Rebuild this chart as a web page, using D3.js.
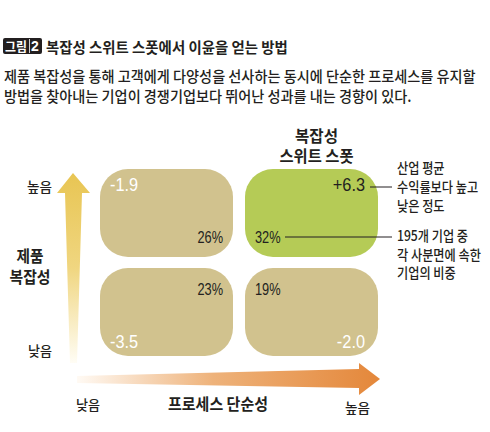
<!DOCTYPE html>
<html>
<head>
<meta charset="utf-8">
<script src="https://cdn.jsdelivr.net/npm/d3@7"></script>
<style>
  body { margin: 0; background: #fff; }
  text { font-family: "Noto Sans CJK KR", sans-serif; font-weight: 500; fill: #231f20; }
  text.num { font-family: "Liberation Sans", "Arial", sans-serif; font-weight: normal; }
  text.b { font-weight: bold; }
</style>
</head>
<body>
<svg id="chart" width="490" height="432"></svg>
<script>
// quadrant data: product complexity (rows) x process simplicity (columns)
const complexity = ["높음", "낮음"];
const simplicity = ["낮음", "높음"];
const profit = [-1.9, 6.3, -3.5, -2.0];   // vs. industry average, %p
const share = [26, 32, 23, 19];           // share of 195 companies, %
const sweetSpot = [false, true, false, false];

const title = "복잡성 스위트 스폿에서 이윤을 얻는 방법";
const subtitle = [
  "제품 복잡성을 통해 고객에게 다양성을 선사하는 동시에 단순한 프로세스를 유지할",
  "방법을 찾아내는 기업이 경쟁기업보다 뛰어난 성과를 내는 경향이 있다."
];
const noteProfit = ["산업 평균", "수익률보다 높고", "낮은 정도"];
const noteShare = ["195개 기업 중", "각 사분면에 속한", "기업의 비중"];

const quads = profit.map((p, i) => ({
  row: complexity[Math.floor(i / 2)],
  col: simplicity[i % 2],
  profit: p,
  share: share[i],
  sweet: sweetSpot[i]
}));

const svg = d3.select("#chart");

// squeeze text horizontally, like the condensed print face
// (moves x/y into a transform so the box is squeezed too)
function squeeze(node, k) {
  const t = d3.select(node);
  const tx = +t.attr("x") || 0, ty = +t.attr("y") || 0;
  t.attr("x", null).attr("y", null)
    .attr("transform", `translate(${tx},${ty}) scale(${k},1)`);
}
function condense(sel, k) {
  sel.each(function() { squeeze(this, k); });
}
// squeeze each text so it spans a given width
function fit(sel, w) {
  sel.each(function(d, i) {
    const target = typeof w === "function" ? w(d, i) : w;
    squeeze(this, target / this.getComputedTextLength());
  });
}

const x = d3.scaleBand().domain(simplicity).range([100, 378]).paddingInner(12 / 145);
const y = d3.scaleBand().domain(complexity).range([169, 356]).paddingInner(11 / 99);

// title
svg.append("rect").attr("x", 3).attr("y", 38).attr("width", 39).attr("height", 16)
  .attr("rx", 2).attr("fill", "#231f20");
svg.append("text").attr("class", "b").attr("x", 5).attr("y", 51).attr("font-size", 13)
  .style("fill", "#fff").text("그림").call(fit, 22);
svg.append("line").attr("x1", 29.5).attr("x2", 29.5).attr("y1", 39).attr("y2", 53)
  .attr("stroke", "#fff").attr("stroke-width", 0.8);
svg.append("text").attr("class", "num").attr("x", 31).attr("y", 51).attr("font-size", 14)
  .style("font-weight", "bold").style("fill", "#fff").text("2");
svg.append("text").attr("class", "b").attr("x", 46).attr("y", 53).attr("font-size", 15)
  .text(title).call(fit, 242);

svg.selectAll(".sub").data(subtitle).join("text")
  .attr("class", "sub")
  .attr("x", 4).attr("y", (d, i) => 82 + i * 19.5)
  .attr("font-size", 15)
  .text(d => d)
  .call(fit, (d, i) => i === 0 ? 472 : 408);

// gradients for the axis arrows
const defs = svg.append("defs");
const gy = defs.append("linearGradient").attr("id", "gy")
  .attr("x1", 0).attr("y1", 1).attr("x2", 0).attr("y2", 0);
gy.append("stop").attr("offset", 0).attr("stop-color", "#fffdf5");
gy.append("stop").attr("offset", 0.5).attr("stop-color", "#f0d680");
gy.append("stop").attr("offset", 1).attr("stop-color", "#e8c553");
const gx = defs.append("linearGradient").attr("id", "gx")
  .attr("x1", 0).attr("y1", 0).attr("x2", 1).attr("y2", 0);
gx.append("stop").attr("offset", 0).attr("stop-color", "#fffaf4");
gx.append("stop").attr("offset", 0.45).attr("stop-color", "#eeb27a");
gx.append("stop").attr("offset", 1).attr("stop-color", "#e4873a");

// vertical arrow (product complexity)
svg.append("path")
  .attr("d", d3.line()([[70, 363], [65, 193], [57, 193], [73, 173], [90, 193], [82, 193], [77, 363]]))
  .attr("fill", "url(#gy)");
// horizontal arrow (process simplicity)
svg.append("path")
  .attr("d", d3.line()([[77, 376], [359, 369], [359, 363], [380, 379], [359, 395], [359, 388], [77, 383]]))
  .attr("fill", "url(#gx)");

// quadrants
const cells = svg.selectAll(".cell").data(quads).join("g").attr("class", "cell");
cells.append("rect")
  .attr("x", d => x(d.col)).attr("y", d => y(d.row))
  .attr("width", x.bandwidth()).attr("height", y.bandwidth())
  .attr("rx", 28).attr("ry", 28)
  .attr("fill", d => d.sweet ? "#b5cb56" : "#d1c28e");

const fmt = v => (v > 0 ? "+" : v < 0 ? "-" : "") + Math.abs(v).toFixed(1);
const isLeft = d => d.col === simplicity[0];
const isTop = d => d.row === complexity[0];

// profit value in the outer corner
cells.append("text").attr("class", "num")
  .attr("x", d => isLeft(d) ? x(d.col) + 10 : x(d.col) + x.bandwidth() - 13)
  .attr("y", d => isTop(d) ? y(d.row) + 22 : y(d.row) + y.bandwidth() - 8)
  .attr("text-anchor", d => isLeft(d) ? "start" : "end")
  .attr("font-size", 19)
  .style("fill", d => d.sweet ? "#231f20" : "#fff")
  .text(d => fmt(d.profit))
  .call(condense, 0.86);

// company share in the inner corner
cells.append("text").attr("class", "num")
  .attr("x", d => isLeft(d) ? x(d.col) + x.bandwidth() - 10 : x(d.col) + 10)
  .attr("y", d => isTop(d) ? y(d.row) + y.bandwidth() - 14 : y(d.row) + 27)
  .attr("text-anchor", d => isLeft(d) ? "end" : "start")
  .attr("font-size", 16)
  .text(d => d.share + "%")
  .call(condense, 0.8);

// sweet spot header
const sweet = quads.find(d => d.sweet);
const cx = x(sweet.col) + x.bandwidth() / 2 + 5;
svg.selectAll(".head").data(["복잡성", "스위트 스폿"]).join("text")
  .attr("class", "head b")
  .attr("x", cx).attr("y", (d, i) => 142 + i * 20)
  .attr("text-anchor", "middle").attr("font-size", 15.5)
  .text(d => d).call(fit, (d, i) => i === 0 ? 43 : 74);

// leader lines and notes
svg.append("line").attr("x1", 370).attr("x2", 392).attr("y1", 187).attr("y2", 187)
  .attr("stroke", "#231f20").attr("stroke-width", 1);
svg.append("line").attr("x1", 285).attr("x2", 392).attr("y1", 237).attr("y2", 237)
  .attr("stroke", "#231f20").attr("stroke-width", 1);

svg.selectAll(".np").data(noteProfit).join("text").attr("class", "np")
  .attr("x", 397).attr("y", (d, i) => 173 + i * 19)
  .attr("font-size", 14).text(d => d).call(condense, 0.87);
svg.selectAll(".ns").data(noteShare).join("text").attr("class", "ns")
  .attr("x", 397).attr("y", (d, i) => 241 + i * 18.5)
  .attr("font-size", 14).text(d => d).call(condense, 0.87);

// axis labels
svg.append("text").attr("x", 52).attr("y", 192).attr("text-anchor", "end")
  .attr("font-size", 13.5).text("높음").call(fit, 25);
svg.append("text").attr("x", 52).attr("y", 356).attr("text-anchor", "end")
  .attr("font-size", 13.5).text("낮음").call(fit, 24);
svg.selectAll(".yl").data(["제품", "복잡성"]).join("text").attr("class", "yl b")
  .attr("x", 30).attr("y", (d, i) => 262 + i * 21)
  .attr("text-anchor", "middle").attr("font-size", 16)
  .text(d => d).call(fit, (d, i) => i === 0 ? 27 : 41);

svg.append("text").attr("x", 76).attr("y", 410)
  .attr("font-size", 13.5).text("낮음").call(fit, 24);
svg.append("text").attr("x", 345).attr("y", 413)
  .attr("font-size", 13.5).text("높음").call(fit, 25);
svg.append("text").attr("class", "b").attr("x", 218).attr("y", 410).attr("text-anchor", "middle")
  .attr("font-size", 16)
  .text("프로세스 단순성").call(fit, 100);
</script>
</body>
</html>
